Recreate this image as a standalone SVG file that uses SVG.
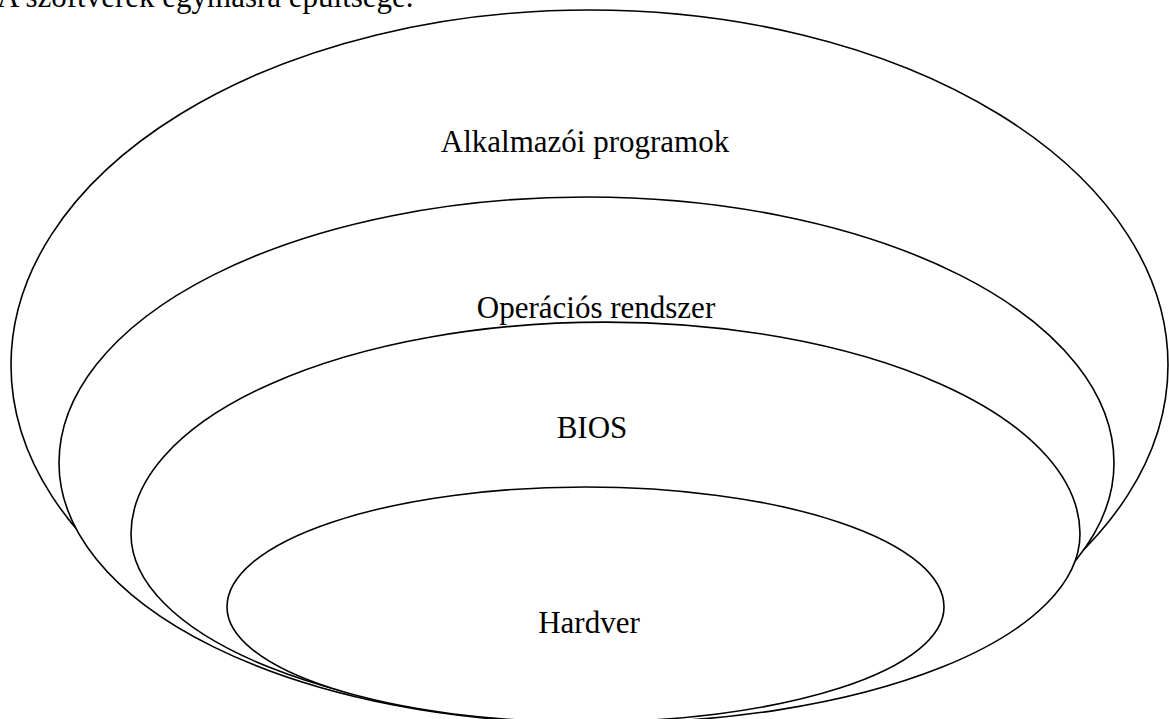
<svg xmlns="http://www.w3.org/2000/svg" width="1169" height="719" viewBox="0 0 1169 719">
<style>
.layer{fill:#fff;stroke:#000;stroke-width:1.6}
.lbl{font-family:"Liberation Serif","Times New Roman",serif;font-size:31px;fill:#000;text-anchor:middle}
.title{font-family:"Liberation Serif","Times New Roman",serif;font-size:31px;fill:#000}
</style>
<rect width="1169" height="719" fill="#fff"/>
<text class="title" x="-3" y="7">A szoftverek egymásra épültsége.</text>
<g id="connectors"></g>
<g id="alkalmazoi">
<path class="layer" d="M 11 365 A 578.5 355 0 0 1 1168 365 A 578.5 355 0 0 1 11 365 Z"/>
<text class="lbl" x="585" y="152">Alkalmazói programok</text>
</g>
<g id="operacios">
<path class="layer" d="M 59 463 A 527.5 266 0 0 1 1114 463 A 527.5 260 0 0 1 59 463 Z"/>
<text class="lbl" x="596" y="318">Operációs rendszer</text>
</g>
<g id="bios">
<path class="layer" d="M 131 534 A 474.5 212 0 0 1 1080 534 A 474.5 189 0 0 1 131 534 Z"/>
<text class="lbl" x="592" y="438">BIOS</text>
</g>
<g id="hardver">
<path class="layer" d="M 227 607 A 358.5 120 0 0 1 944 607 A 358.5 115 0 0 1 227 607 Z"/>
<text class="lbl" x="589" y="633">Hardver</text>
</g>
</svg>
